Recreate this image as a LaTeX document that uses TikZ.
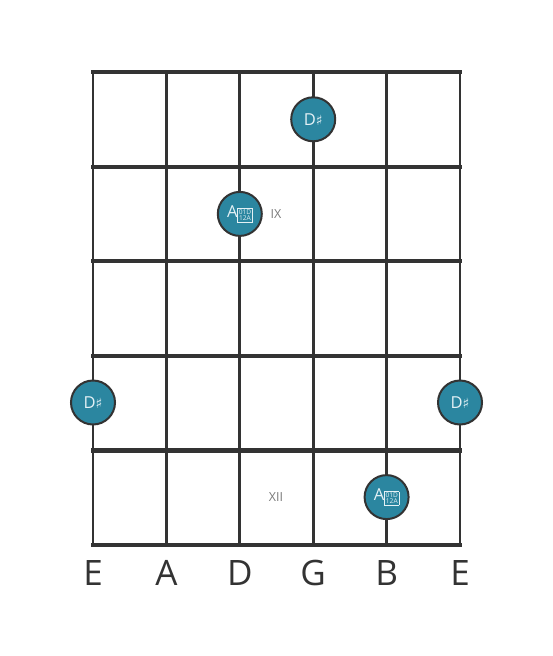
\documentclass[tikz,border=0pt]{standalone}
\usepackage{fontspec}
\setmainfont{Open Sans}
\newfontfamily\sharpfont{DejaVu Sans}
\usetikzlibrary{positioning}
\definecolor{fretgray}{HTML}{333333}
\definecolor{noteblue}{HTML}{2B86A0}
\definecolor{notetext}{HTML}{E4F1F5}
\definecolor{labelgray}{HTML}{7A7A7A}
\newcommand{\sharpsign}{{\sharpfont\fontsize{14}{14}\selectfont ♯}}
\newcommand{\tofubox}{\raisebox{0pt}{\fontsize{6.6}{5.2}\selectfont\setlength\fboxsep{0.7pt}\setlength\fboxrule{0.7pt}\fbox{\renewcommand\arraystretch{0.72}\begin{tabular}{@{}c@{}}01D\\12A\end{tabular}}}}

\begin{document}
\begin{tikzpicture}[x=1pt, y=-1pt,
        note/.style={circle, draw=fretgray, line width=2pt, fill=noteblue,
                minimum size=44pt, inner sep=0pt, text=notetext,
                font=\fontsize{16.5}{16.5}\selectfont},
        fretno/.style={text=labelgray, font=\fontsize{12.5}{12.5}\selectfont},
        stringname/.style={text=fretgray, font=\fontsize{35}{35}\selectfont}]
        \useasboundingbox (0,0) rectangle (553,656);

        % strings
        \foreach \s [count=\i from 0] in {E,A,D,G,B,E} {
                \coordinate (top\i) at (93+73.4*\i, 72);
                \coordinate (bot\i) at (93+73.4*\i, 545);
                \draw[line width=2.8pt, fretgray] (top\i) -- (bot\i);
                \node[stringname, below = 12pt of bot\i] (name\i) {\s};
        }
        % frets
        \foreach \j in {0,...,5}
                \draw[line width=4.2pt, fretgray, line cap=rect] (93,72+94.6*\j) -- (460,72+94.6*\j);

        \node[note] (dsharpG) at (313.2,119.3) {D\sharpsign};
        \node[note] (adblD) at (239.8,213.9) {A\tofubox};
        \node[note] (dsharpElow) at (93,402.5) {D\sharpsign};
        \node[note] (dsharpEhigh) at (460,402.5) {D\sharpsign};
        \node[note] (adblB) at (386.6,497.1) {A\tofubox};

        \node[fretno] (nine) at (276,214) {IX};
        \node[fretno] (twelve) at (276,497) {XII};
\end{tikzpicture}
\end{document}
